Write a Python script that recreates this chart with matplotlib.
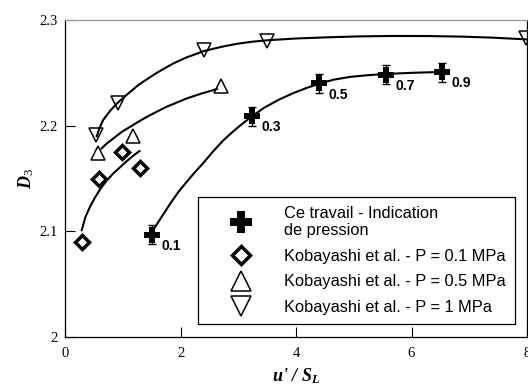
import matplotlib
matplotlib.use("Agg")
import matplotlib.pyplot as plt
import numpy as np

plt.rcParams['mathtext.fontset'] = 'custom'
plt.rcParams['mathtext.it'] = 'Liberation Serif:italic:bold'
plt.rcParams['mathtext.rm'] = 'Liberation Serif'
plt.rcParams['mathtext.bf'] = 'Liberation Serif:bold'

# --- data ---
# Ce travail - Indication de pression
u_ce = [1.50, 3.24, 4.39, 5.56, 6.52]
d_ce = [2.097, 2.209, 2.240, 2.248, 2.2505]
err_ce = [0.009, 0.009, 0.009, 0.009, 0.009]
lab_ce = ["0.1", "0.3", "0.5", "0.7", "0.9"]

# Kobayashi et al.
u_p01 = [0.29, 0.59, 0.98, 1.30]
d_p01 = [2.090, 2.150, 2.175, 2.160]
u_p05 = [0.58, 1.18, 2.70]
d_p05 = [2.174, 2.190, 2.238]
u_p1 = [0.53, 0.92, 2.40, 3.50, 7.99]
d_p1 = [2.191, 2.221, 2.272, 2.280, 2.283]

# fitted curves
cu_ce = [1.56, 1.70, 1.82, 1.96, 2.11, 2.25, 2.40, 2.57, 2.74, 2.90, 3.03, 3.24, 3.45,
         3.70, 3.96, 4.20, 4.39, 4.65, 4.94, 5.25, 5.55, 6.00, 6.50]
cd_ce = [2.104, 2.116, 2.126, 2.137, 2.147, 2.156, 2.165, 2.176, 2.186, 2.194, 2.200,
         2.209, 2.217, 2.2245, 2.231, 2.236, 2.2395, 2.2435, 2.2462, 2.2478, 2.2489,
         2.2500, 2.2508]
cu_p01 = [0.29, 0.35, 0.43, 0.52, 0.61, 0.72, 0.84, 0.96, 1.07, 1.18, 1.29]
cd_p01 = [2.101, 2.113, 2.123, 2.132, 2.140, 2.148, 2.155, 2.161, 2.1665, 2.1715, 2.176]
cu_p05 = [0.635, 0.72, 0.84, 0.98, 1.13, 1.28, 1.42, 1.60, 1.76, 1.94, 2.11, 2.34,
          2.57, 2.63]
cd_p05 = [2.1785, 2.183, 2.188, 2.194, 2.199, 2.204, 2.2084, 2.2135, 2.2179, 2.222,
          2.2258, 2.230, 2.2337, 2.2347]
cu_p1 = [0.55, 0.60, 0.66, 0.78, 0.90, 1.01, 1.13, 1.27, 1.42, 1.56, 1.70, 1.88, 2.10,
         2.40, 2.70, 2.98, 3.25, 3.50, 4.00, 4.54, 5.10, 5.69, 6.30, 6.85, 7.40, 7.94, 8.0]
cd_p1 = [2.190, 2.198, 2.2053, 2.214, 2.221, 2.2265, 2.232, 2.2385, 2.2440, 2.249,
         2.2535, 2.2590, 2.2645, 2.2705, 2.2745, 2.2775, 2.2795, 2.2808, 2.2825, 2.2836,
         2.2845, 2.2849, 2.2848, 2.2843, 2.2833, 2.2818, 2.2816]

xticks = [0, 2, 4, 6, 8]
xticklabels = ["0", "2", "4", "6", "8"]
yticks = [2.0, 2.1, 2.2, 2.3]
yticklabels = ["2", "2.1", "2.2", "2.3"]

fig = plt.figure(figsize=(5.28, 3.85), dpi=100)
ax = fig.add_axes([65 / 528, 48 / 385, 462 / 528, 317 / 385])

# curves
for cu, cd in [(cu_ce, cd_ce), (cu_p01, cd_p01), (cu_p05, cd_p05), (cu_p1, cd_p1)]:
    ax.plot(cu, cd, color='black', lw=1.5, zorder=2, solid_joinstyle='round')

# points
ax.errorbar(u_ce, d_ce, yerr=err_ce, fmt='none', ecolor='black', elinewidth=1.0,
            capsize=3, capthick=1.0, zorder=3)
h_ce, = ax.plot(u_ce, d_ce, 'P', color='black', ms=11.5, mew=0, ls='none', zorder=4,
                label="Ce travail - Indication\nde pression")
h_p01, = ax.plot(u_p01, d_p01, 'D', mfc='none', mec='black', ms=7, mew=2.5, ls='none',
                 zorder=4, label="Kobayashi et al. - P = 0.1 MPa")
h_p05, = ax.plot(u_p05, d_p05, '^', mfc='none', mec='black', ms=10.5, mew=1.1, ls='none',
                 zorder=4, label="Kobayashi et al. - P = 0.5 MPa")
h_p1, = ax.plot(u_p1, d_p1, 'v', mfc='none', mec='black', ms=10.5, mew=1.1, ls='none',
                zorder=4, label="Kobayashi et al. - P = 1 MPa")

for x, y, t in zip(u_ce, d_ce, lab_ce):
    ax.annotate(t, (x, y), xytext=(7, -8), textcoords='offset points', ha='left',
                va='center', fontsize=10, fontweight='bold', family='Liberation Sans')

ax.set_xlim(0, 8)
ax.set_ylim(2.0, 2.3)
ax.set_xticks(xticks)
ax.set_xticklabels(xticklabels, family='Liberation Serif', fontsize=10.5)
ax.set_yticks(yticks)
ax.set_yticklabels(yticklabels, family='Liberation Serif', fontsize=10.5)
ax.tick_params(axis='x', direction='in', length=7, width=0.8, pad=7, top=False)
ax.tick_params(axis='y', direction='in', length=7, width=0.8, pad=5, right=False)

for s in ax.spines.values():
    s.set_linewidth(0.9)
ax.spines['top'].set_color('#999999')

ax.set_xlabel(r"u' / $S_L$", family='Liberation Serif', style='italic',
              fontweight='bold', fontsize=13, labelpad=5)
ax.set_ylabel(r"$D_3$", fontsize=13, labelpad=3)

leg = ax.legend(handles=[h_ce, h_p01, h_p05, h_p1], loc='lower left',
                bbox_to_anchor=(0.288, 0.041), borderaxespad=0,
                prop={'family': 'Liberation Sans', 'size': 11.8},
                markerscale=1.35, handlelength=4.1, handletextpad=0.6,
                borderpad=0.55, labelspacing=0.65, fancybox=False,
                edgecolor='black', framealpha=1)
leg.get_frame().set_linewidth(0.9)

fig.savefig("out.png", dpi=100)
